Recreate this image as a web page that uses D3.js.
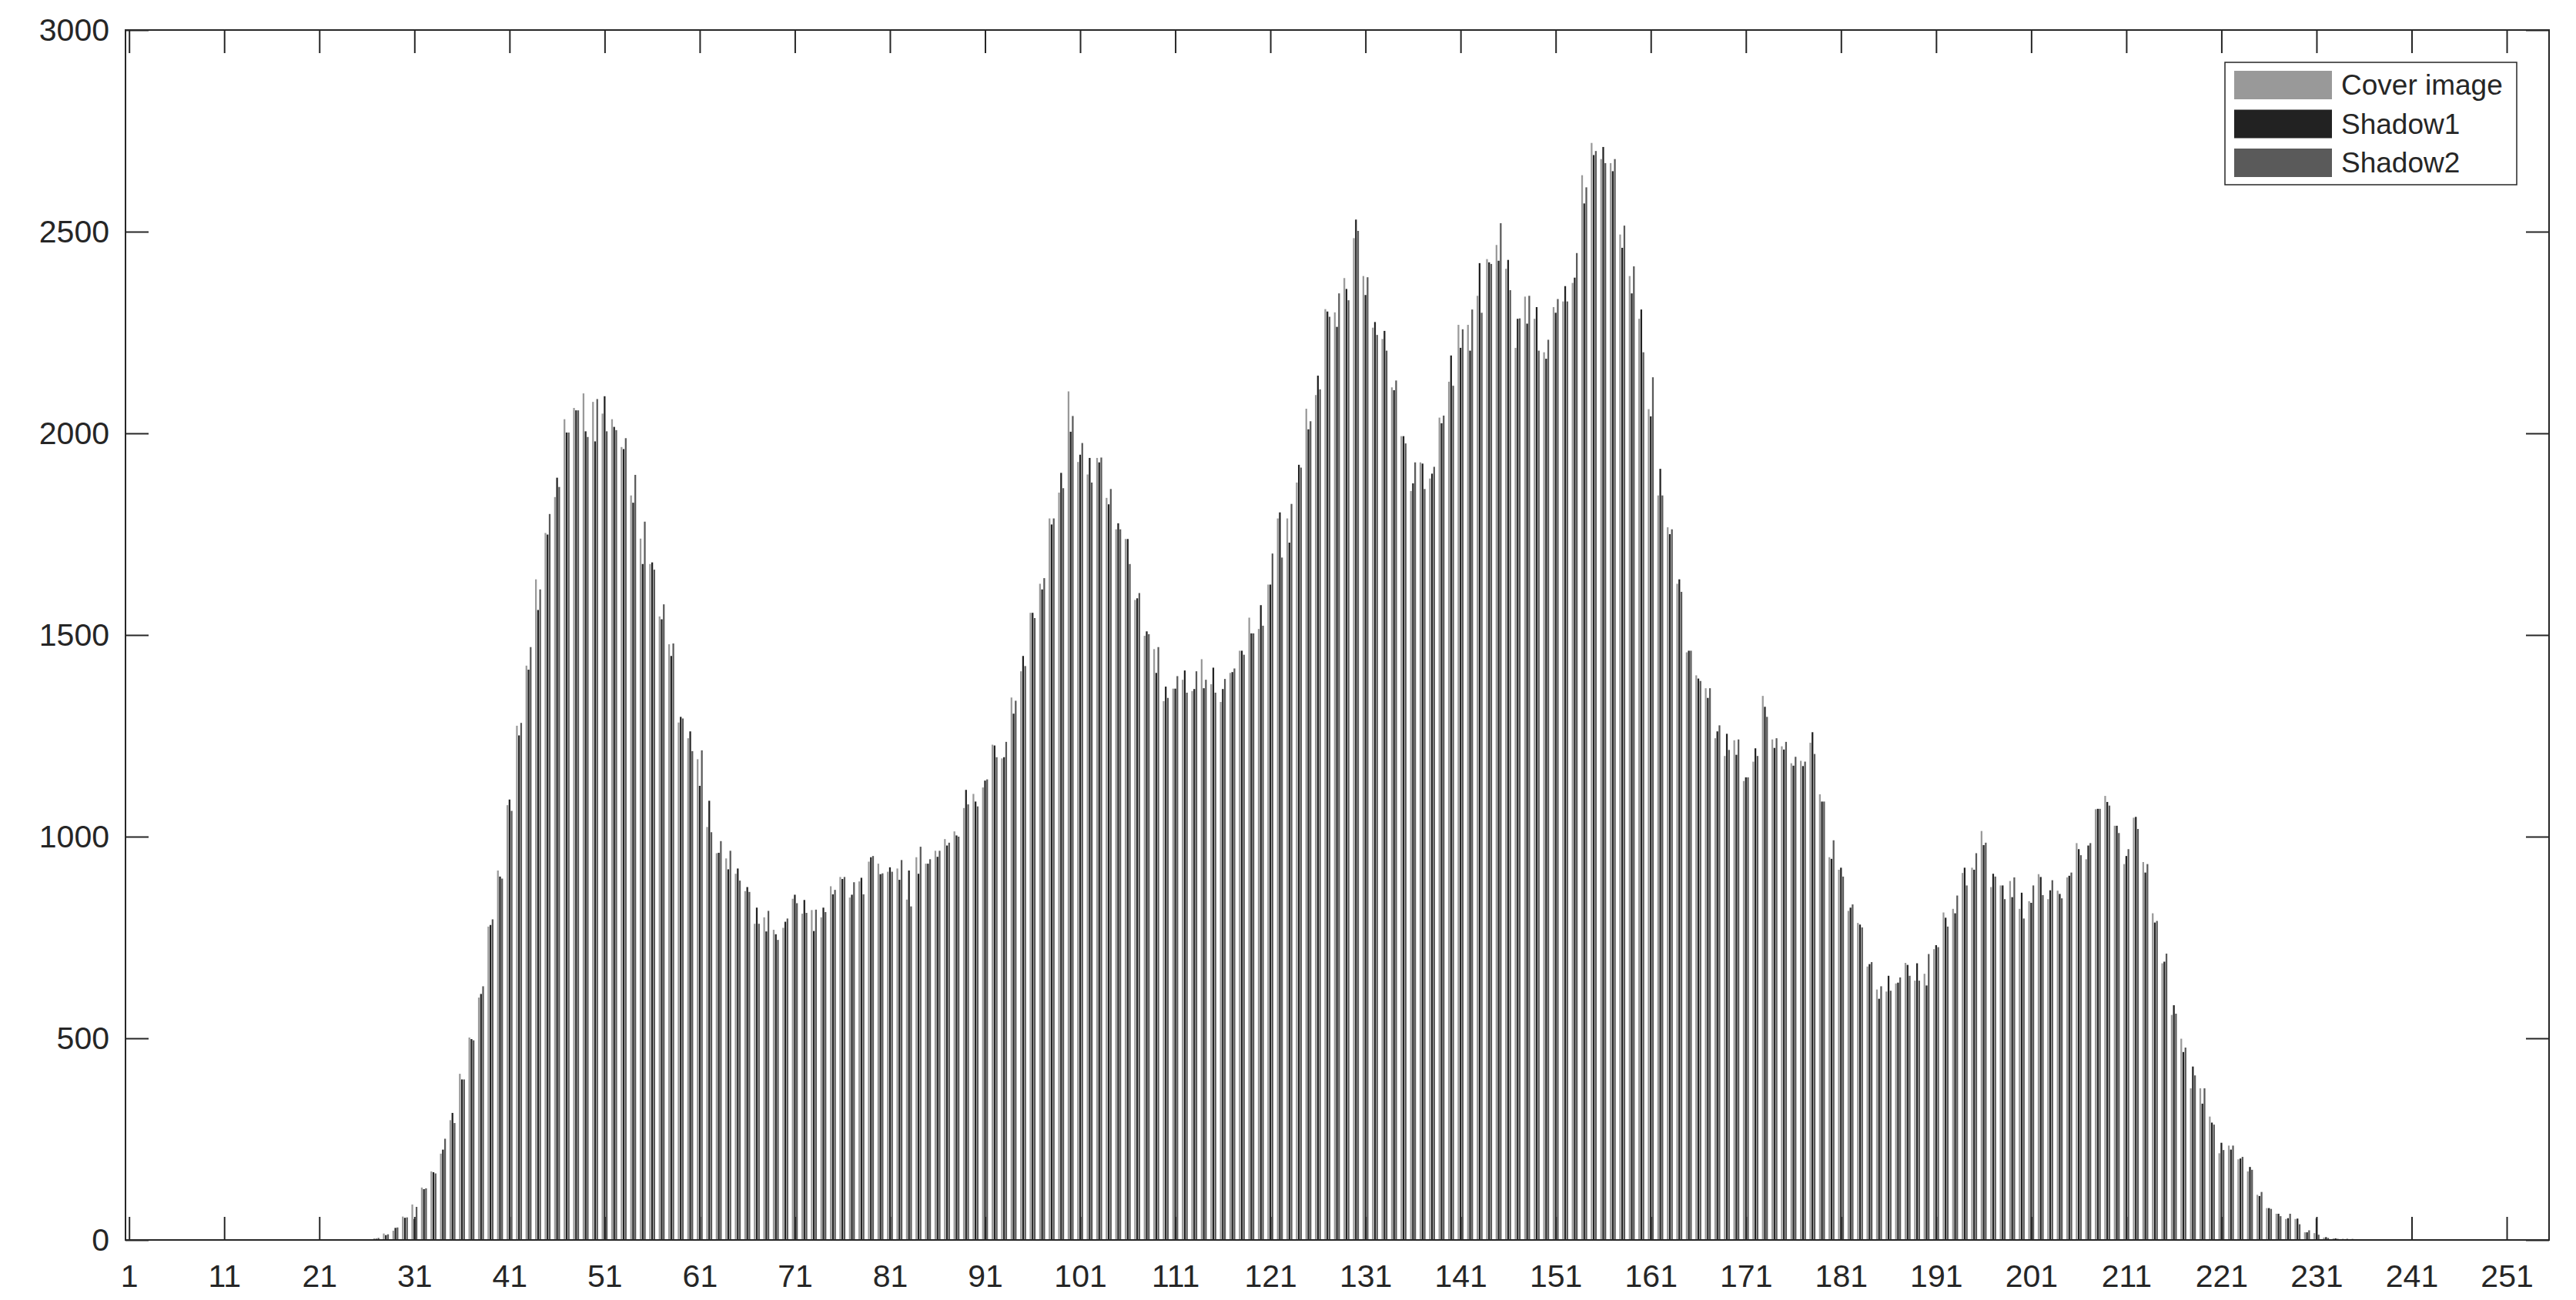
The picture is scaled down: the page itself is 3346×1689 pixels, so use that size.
<!DOCTYPE html>
<html>
<head>
<meta charset="utf-8">
<script src="https://cdn.jsdelivr.net/npm/d3@7"></script>
<style>
  body { margin: 0; background: #fff; }
  text { font-family: "Liberation Sans", Arial, Helvetica, sans-serif; fill: #262626; }
</style>
</head>
<body>
<script>
// grey level bins 1..256
var bins = d3.range(1, 257);
var seriesNames = ["Cover image", "Shadow1", "Shadow2"];
var seriesColors = ["#999999", "#222222", "#5a5a5a"];

var cover = [
  0,0,0,0,0,0,0,0,0,0,
  0,0,0,0,0,0,0,0,0,0,
  0,0,0,0,0,0,4,16,23,58,
  88,130,170,214,297,412,502,601,777,916,
  1078,1275,1424,1638,1753,1842,2035,2063,2099,2078,
  2049,2035,1966,1846,1739,1676,1546,1477,1283,1244,
  1192,1024,959,946,908,865,784,800,769,774,
  846,809,818,800,877,900,849,889,938,933,
  913,921,844,949,933,965,994,1013,1071,1106,
  1122,1228,1194,1345,1410,1555,1627,1789,1853,2104,
  1929,1898,1939,1840,1762,1738,1587,1498,1465,1336,
  1367,1389,1361,1440,1378,1334,1406,1461,1543,1515,
  1625,1789,1789,1878,2061,2095,2308,2300,2385,2484,
  2390,2262,2234,2114,1993,1857,1928,1888,2039,2128,
  2269,2269,2341,2432,2467,2408,2212,2339,2284,2201,
  2313,2327,2373,2640,2720,2680,2670,2493,2390,2284,
  2060,1846,1767,1627,1457,1400,1368,1244,1200,1239,
  1138,1186,1349,1241,1224,1182,1188,1233,1105,949,
  918,816,786,678,621,616,636,687,643,660,
  721,812,821,910,923,1014,875,879,890,821,
  840,907,845,866,899,984,944,1068,1101,1027,
  932,1047,937,810,686,558,499,376,376,306,
  215,234,200,170,112,79,65,52,52,19,
  17,6,4,3,3,1,0,0,0,0,
  0,0,0,0,0,0,0,0,0,0,
  0,0,0,0,0,0
];

var shadow1 = [
  0,0,0,0,0,0,0,0,0,0,
  0,0,0,0,0,0,0,0,0,0,
  0,0,0,0,0,0,3,12,30,55,
  52,126,168,224,315,398,498,610,781,901,
  1092,1251,1414,1562,1749,1890,2002,2057,2005,1980,
  2092,2016,1961,1828,1676,1680,1539,1448,1297,1261,
  1126,1089,960,919,921,875,824,765,758,789,
  856,843,766,824,857,895,856,898,949,907,
  924,893,916,908,933,950,978,1003,1116,1087,
  1139,1226,1197,1305,1448,1555,1613,1774,1902,2004,
  1947,1939,1928,1824,1777,1738,1591,1509,1406,1372,
  1367,1412,1366,1368,1419,1366,1408,1461,1504,1574,
  1625,1804,1729,1922,2010,2143,2302,2264,2358,2530,
  2343,2276,2254,2107,1993,1876,1925,1900,2025,2193,
  2212,2205,2422,2424,2428,2430,2284,2272,2313,2185,
  2299,2365,2386,2570,2690,2710,2650,2460,2347,2307,
  2042,1912,1750,1638,1461,1392,1344,1261,1255,1203,
  1147,1219,1322,1220,1216,1176,1175,1259,1087,945,
  923,824,782,684,598,655,638,682,686,631,
  731,799,810,923,918,979,908,879,850,861,
  836,900,867,858,903,969,978,1069,1086,1027,
  952,1049,911,787,690,582,466,430,338,291,
  241,224,202,181,109,79,65,54,53,19,
  54,7,4,2,2,0,0,0,0,0,
  0,0,0,0,0,0,0,0,0,0,
  0,0,0,0,0,0
];

var shadow2 = [
  0,0,0,0,0,0,0,0,0,0,
  0,0,0,0,0,0,0,0,0,0,
  0,0,0,0,0,0,5,14,31,56,
  82,128,165,251,290,398,495,629,795,896,
  1064,1282,1470,1613,1800,1867,2002,2057,1991,2085,
  2005,2008,1988,1897,1781,1662,1576,1479,1293,1212,
  1214,1011,989,965,891,863,784,816,744,797,
  835,811,819,813,868,900,887,857,952,909,
  913,942,827,975,944,965,985,1000,1080,1075,
  1142,1197,1235,1337,1423,1542,1641,1789,1864,2043,
  1976,1878,1940,1862,1762,1676,1604,1502,1470,1344,
  1398,1357,1410,1389,1357,1391,1417,1451,1504,1523,
  1702,1692,1825,1915,2030,2109,2289,2347,2330,2502,
  2387,2244,2205,2131,1975,1928,1862,1917,2044,2118,
  2258,2307,2299,2420,2521,2355,2285,2341,2205,2232,
  2333,2327,2447,2610,2700,2670,2680,2515,2414,2201,
  2139,1846,1762,1607,1461,1386,1368,1276,1215,1241,
  1147,1200,1297,1244,1235,1198,1186,1205,1087,991,
  901,832,775,689,629,618,651,655,643,709,
  726,777,854,879,959,985,901,845,899,797,
  879,855,892,847,911,954,984,1069,1077,1009,
  969,1019,932,791,710,561,477,408,376,286,
  223,234,206,174,119,77,59,65,39,24,
  13,5,3,3,2,1,0,0,0,0,
  0,0,0,0,0,0,0,0,0,0,
  0,0,0,0,0,0
];

var xTickLabels = [1, 11, 21, 31, 41, 51, 61, 71, 81, 91, 101, 111, 121, 131, 141, 151, 161, 171, 181, 191, 201, 211, 221, 231, 241, 251];
var yTickLabels = [0, 500, 1000, 1500, 2000, 2500, 3000];

var seriesValues = [cover, shadow1, shadow2];

// page and plot box (window.top is reserved, so plain names are avoided)
var W = 3346, H = 1689;
var plotL = 163, plotR = 3311, plotT = 39, plotB = 1611;
var tickLen = 30;

var svg = d3.select("body").append("svg")
    .attr("width", W)
    .attr("height", H);

var x = d3.scaleLinear().domain([0.62, 255.45]).range([plotL, plotR]);
var y = d3.scaleLinear().domain([0, 3000]).range([plotB, plotT]);

// three bars side by side inside each bin
var groupW = (x(2) - x(1)) * 0.667;
var sub = d3.scaleBand().domain(seriesNames).range([-groupW / 2, groupW / 2]).paddingInner(0.18).paddingOuter(0.09);

svg.append("clipPath").attr("id", "plot")
  .append("rect")
    .attr("x", plotL).attr("y", plotT)
    .attr("width", plotR - plotL).attr("height", plotB - plotT);

var bars = svg.append("g").attr("clip-path", "url(#plot)");

seriesNames.forEach(function(name, s) {
    var vals = seriesValues[s];
    bars.append("g")
        .attr("fill", seriesColors[s])
        .selectAll("rect")
        .data(bins)
        .enter()
        .append("rect")
            .attr("x", function(d) { return x(d) + sub(name); })
            .attr("width", sub.bandwidth())
            .attr("y", function(d, i) { return y(vals[i]); })
            .attr("height", function(d, i) { return y(0) - y(vals[i]); });
});

// axes, ticks pointing inwards on all four sides
function styleAxis(g) {
    g.select(".domain").remove();
    g.selectAll("line").attr("stroke", "#262626").attr("stroke-width", 2);
    g.selectAll("text").style("font-size", "41px").attr("fill", "#262626");
}

svg.append("g")
    .attr("transform", "translate(0," + plotB + ")")
    .call(d3.axisBottom(x).tickValues(xTickLabels).tickSize(-tickLen).tickPadding(32).tickFormat(d3.format("d")))
    .call(styleAxis);

svg.append("g")
    .attr("transform", "translate(0," + plotT + ")")
    .call(d3.axisTop(x).tickValues(xTickLabels).tickSize(-tickLen).tickFormat(""))
    .call(styleAxis);

svg.append("g")
    .attr("transform", "translate(" + plotL + ",0)")
    .call(d3.axisLeft(y).tickValues(yTickLabels).tickSize(-tickLen).tickPadding(21).tickFormat(d3.format("d")))
    .call(styleAxis);

svg.append("g")
    .attr("transform", "translate(" + plotR + ",0)")
    .call(d3.axisRight(y).tickValues(yTickLabels).tickSize(-tickLen).tickFormat(""))
    .call(styleAxis);

// box
svg.append("rect")
    .attr("x", plotL).attr("y", plotT)
    .attr("width", plotR - plotL).attr("height", plotB - plotT)
    .attr("fill", "none")
    .attr("stroke", "#262626")
    .attr("stroke-width", 2);

// legend
var legend = svg.append("g").attr("transform", "translate(2890,81)");
legend.append("rect")
    .attr("width", 379).attr("height", 159)
    .attr("fill", "#fff")
    .attr("stroke", "#262626")
    .attr("stroke-width", 1.5);

var item = legend.selectAll(".item")
    .data(seriesNames)
    .enter()
    .append("g")
        .attr("class", "item")
        .attr("transform", function(d, i) { return "translate(12," + (11 + i * 50.5) + ")"; });

item.append("rect")
    .attr("width", 127)
    .attr("height", 37)
    .attr("fill", function(d, i) { return seriesColors[i]; });

item.append("text")
    .attr("x", 139)
    .attr("y", 18.5)
    .attr("dy", "0.35em")
    .style("font-size", "37px")
    .text(function(d) { return d; });
</script>
</body>
</html>
